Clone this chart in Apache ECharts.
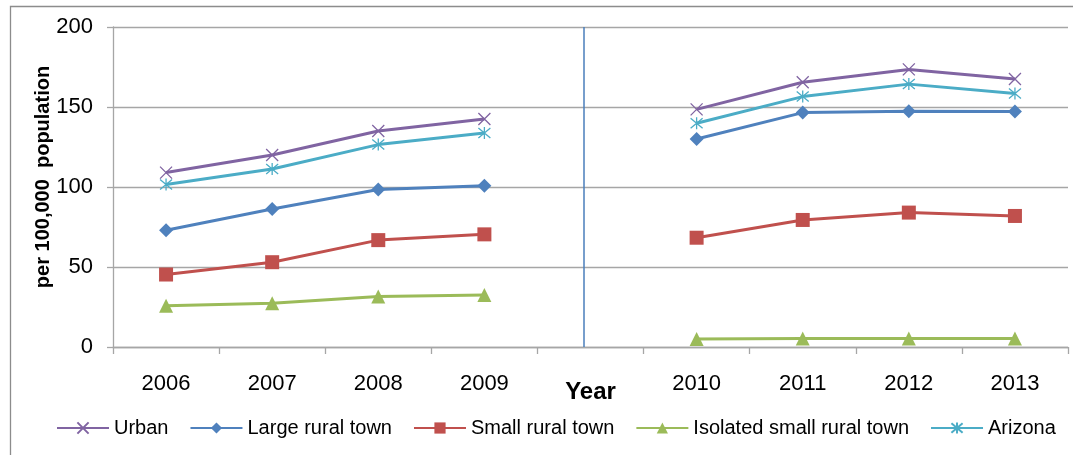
<!DOCTYPE html>
<html>
<head>
<meta charset="utf-8">
<script src="https://cdn.jsdelivr.net/npm/echarts@6/dist/echarts.min.js"></script>
<style>
  html, body { margin: 0; padding: 0; background: #ffffff; }
  #chart { width: 1073px; height: 455px; }
</style>
</head>
<body>
<div id="chart"></div>
<script>
// Years on the category axis; the empty slot separates the two periods.
const years = ['2006', '2007', '2008', '2009', '', '2010', '2011', '2012', '2013'];

// Rates per 100,000 population
const urban    = [109, 120, 135, 142.5, null, 148.5, 165.5, 173.5, 167.5];
const largeRural = [73, 86.3, 98.5, 100.8, null, 130, 146.5, 147.3, 147.2];
const smallRural = [45.3, 53, 66.8, 70.4, null, 68.3, 79.4, 84, 81.9];
const isolatedRural = [25.8, 27.3, 31.5, 32.5, null, 5, 5.3, 5.3, 5.3];
const arizona  = [101.5, 111.3, 126.5, 133.7, null, 139.8, 156.5, 164.3, 158.5];

// Y axis ticks
const yTicks = { min: 0, max: 200, interval: 50 };

// Break position between 2009 and 2010, in category-slot units
const breakAt = 4.44;

const FONT = "'Liberation Sans', Arial, sans-serif";
const GRID_GRAY = '#a6a6a6';

const crossPath = 'path://M0,0L10,10M10,0L0,10';
const starPath = 'path://M0,0L10,10M10,0L0,10M5,-1L5,11';

function lineSeries(name, data, color, symbol, size, stroked) {
  return {
    name: name,
    type: 'line',
    data: data,
    xAxisIndex: 0,
    yAxisIndex: 0,
    symbol: symbol,
    symbolSize: size,
    showSymbol: true,
    connectNulls: false,
    lineStyle: { color: color, width: 3 },
    itemStyle: stroked
      ? { color: 'rgba(0,0,0,0)', borderColor: color, borderWidth: 1.3 }
      : { color: color, borderColor: color, borderWidth: 0 },
    emphasis: { disabled: true },
    animation: false
  };
}

const chart = echarts.init(document.getElementById('chart'), null, { renderer: 'canvas' });

chart.setOption({
  backgroundColor: '#ffffff',
  animation: false,
  textStyle: { fontFamily: FONT },
  graphic: [{
    type: 'rect',
    left: 8,
    top: 4,
    shape: { width: 1075, height: 470 },
    style: { fill: 'none', stroke: '#8c8c8c', lineWidth: 1.3 },
    silent: true,
    z: -10
  }],
  grid: { left: 113, right: 5, top: 27, bottom: 108, containLabel: false },
  legend: {
    bottom: 12,
    left: 51,
    itemWidth: 52,
    itemHeight: 14,
    itemGap: 21,
    textStyle: { fontSize: 20, color: '#000', fontFamily: FONT },
    data: ['Urban', 'Large rural town', 'Small rural town', 'Isolated small rural town', 'Arizona']
  },
  xAxis: [{
    type: 'category',
    data: years,
    boundaryGap: true,
    name: 'Year',
    nameLocation: 'middle',
    nameGap: 33,
    nameMoveOverlap: false,
    nameTextStyle: { fontSize: 24, fontWeight: 'bold', color: '#000', fontFamily: FONT },
    axisLine: { lineStyle: { color: GRID_GRAY, width: 1.3 } },
    axisTick: { show: true, inside: false, length: 7, interval: 0, alignWithLabel: false, lineStyle: { color: GRID_GRAY, width: 1.3 } },
    axisLabel: { fontSize: 22, color: '#000', margin: 26, interval: 0, fontFamily: FONT },
    splitLine: { show: false }
  }, {
    type: 'value',
    min: 0,
    max: years.length,
    show: false,
    axisLine: { show: false },
    splitLine: { show: false }
  }],
  yAxis: [{
    type: 'value',
    min: yTicks.min,
    max: yTicks.max,
    interval: yTicks.interval,
    name: 'per 100,000  population',
    nameLocation: 'middle',
    nameGap: 60,
    nameMoveOverlap: false,
    nameTextStyle: { fontSize: 20, fontWeight: 'bold', color: '#000', fontFamily: FONT, padding: [0, 0, 0, 20] },
    axisLine: { show: true, lineStyle: { color: GRID_GRAY, width: 1.3 } },
    axisTick: { show: true, inside: false, length: 6, lineStyle: { color: GRID_GRAY, width: 1.3 } },
    axisLabel: { fontSize: 22, color: '#000', margin: 20, fontFamily: FONT },
    splitLine: { show: true, lineStyle: { color: GRID_GRAY, width: 1.3 } }
  }],
  series: [
    {
      name: 'break',
      type: 'line',
      xAxisIndex: 1,
      yAxisIndex: 0,
      data: [],
      silent: true,
      markLine: {
        silent: true,
        symbol: ['none', 'none'],
        label: { show: false },
        lineStyle: { color: '#4a7ebb', width: 1.5, type: 'solid' },
        data: [{ xAxis: breakAt }],
        animation: false
      }
    },
    lineSeries('Isolated small rural town', isolatedRural, '#9BBB59', 'triangle', 14, false),
    lineSeries('Small rural town', smallRural, '#C0504D', 'rect', 14, false),
    lineSeries('Large rural town', largeRural, '#4F81BD', 'diamond', 14, false),
    lineSeries('Arizona', arizona, '#4BACC6', starPath, 12, true),
    lineSeries('Urban', urban, '#8064A2', crossPath, 12, true)
  ]
});
</script>
</body>
</html>
